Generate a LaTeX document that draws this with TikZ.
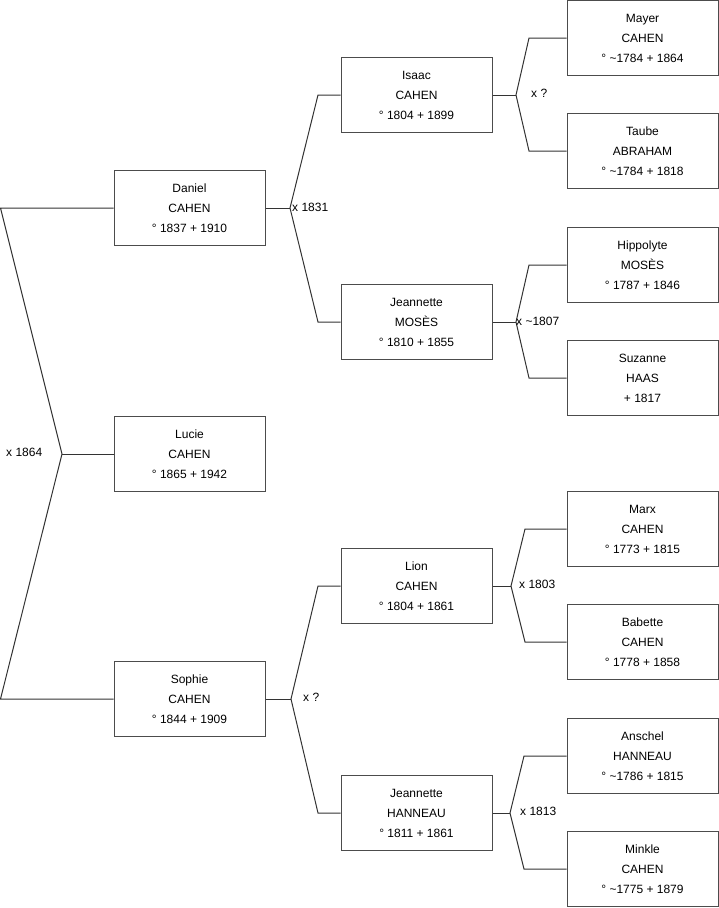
\documentclass[tikz,border=0pt]{standalone}
\usepackage{fontspec}
\setmainfont{Liberation Sans}
\begin{document}
\begin{tikzpicture}[x=1pt,y=-1pt,
  person/.style={draw=black!70, line width=1pt, minimum width=151pt,
    minimum height=75pt, inner sep=0pt, align=center,
    font=\fontsize{12}{20}\selectfont},
  link/.style={draw=black!80, line width=1pt},
  wed/.style={anchor=west, inner sep=0pt, font=\fontsize{12}{14}\selectfont}]
  \useasboundingbox (0,0) rectangle (719,908);

  % Generation 1
  \node[person] (daniel) at (189.5,208) {Daniel\\CAHEN\\° 1837 + 1910};
  \node[person] (lucie)  at (189.5,454) {Lucie\\CAHEN\\° 1865 + 1942};
  \node[person] (sophie) at (189.5,699) {Sophie\\CAHEN\\° 1844 + 1909};

  % Generation 2
  \node[person] (isaac)    at (416.5,95)  {Isaac\\CAHEN\\° 1804 + 1899};
  \node[person] (jmoses)   at (416.5,322) {Jeannette\\MOSÈS\\° 1810 + 1855};
  \node[person] (lion)     at (416.5,586) {Lion\\CAHEN\\° 1804 + 1861};
  \node[person] (jhanneau) at (416.5,813) {Jeannette\\HANNEAU\\° 1811 + 1861};

  % Generation 3
  \node[person] (mayer)     at (642.5,38)  {Mayer\\CAHEN\\° \textasciitilde1784 + 1864};
  \node[person] (taube)     at (642.5,151) {Taube\\ABRAHAM\\° \textasciitilde1784 + 1818};
  \node[person] (hippolyte) at (642.5,265) {Hippolyte\\MOSÈS\\° 1787 + 1846};
  \node[person] (suzanne)   at (642.5,378) {Suzanne\\HAAS\\+ 1817};
  \node[person] (marx)      at (642.5,529) {Marx\\CAHEN\\° 1773 + 1815};
  \node[person] (babette)   at (642.5,642) {Babette\\CAHEN\\° 1778 + 1858};
  \node[person] (anschel)   at (642.5,756) {Anschel\\HANNEAU\\° \textasciitilde1786 + 1815};
  \node[person] (minkle)    at (642.5,869) {Minkle\\CAHEN\\° \textasciitilde1775 + 1879};

  % Fork points
  \coordinate (d0) at (0.5,208);
  \coordinate (f0) at (62,454);
  \coordinate (s0) at (0.5,699);
  \coordinate (f1) at (290,208);
  \coordinate (i0) at (318,95);
  \coordinate (j0) at (318,322);
  \coordinate (f4) at (291,699);
  \coordinate (l0) at (318,586);
  \coordinate (n0) at (318,813);
  \coordinate (f2) at (516,95);
  \coordinate (m0) at (529,38);
  \coordinate (t0) at (529,151);
  \coordinate (f3) at (516,322);
  \coordinate (h0) at (529,265);
  \coordinate (z0) at (529,378);
  \coordinate (f5) at (511,586);
  \coordinate (x0) at (525,529);
  \coordinate (b0) at (525,642);
  \coordinate (f6) at (510,813);
  \coordinate (a0) at (524,756);
  \coordinate (k0) at (524,869);

  % Connectors
  \draw[link] (daniel.west) -- (d0) -- (f0) -- (s0) -- (sophie.west);
  \draw[link] (f0) -- (lucie.west);
  \draw[link] (daniel.east) -- (f1);
  \draw[link] (isaac.west) -- (i0) -- (f1) -- (j0) -- (jmoses.west);
  \draw[link] (sophie.east) -- (f4);
  \draw[link] (lion.west) -- (l0) -- (f4) -- (n0) -- (jhanneau.west);
  \draw[link] (isaac.east) -- (f2);
  \draw[link] (mayer.west) -- (m0) -- (f2) -- (t0) -- (taube.west);
  \draw[link] (jmoses.east) -- (f3);
  \draw[link] (hippolyte.west) -- (h0) -- (f3) -- (z0) -- (suzanne.west);
  \draw[link] (lion.east) -- (f5);
  \draw[link] (marx.west) -- (x0) -- (f5) -- (b0) -- (babette.west);
  \draw[link] (jhanneau.east) -- (f6);
  \draw[link] (anschel.west) -- (a0) -- (f6) -- (k0) -- (minkle.west);

  % Marriages
  \node[wed] (w0) at (6,452)   {x 1864};
  \node[wed] (w1) at (292,207) {x 1831};
  \node[wed] (w4) at (303,697) {x ?};
  \node[wed] (w2) at (531,93)  {x ?};
  \node[wed] (w3) at (516,321) {x \textasciitilde1807};
  \node[wed] (w5) at (519,584) {x 1803};
  \node[wed] (w6) at (520,811) {x 1813};

\end{tikzpicture}
\end{document}
